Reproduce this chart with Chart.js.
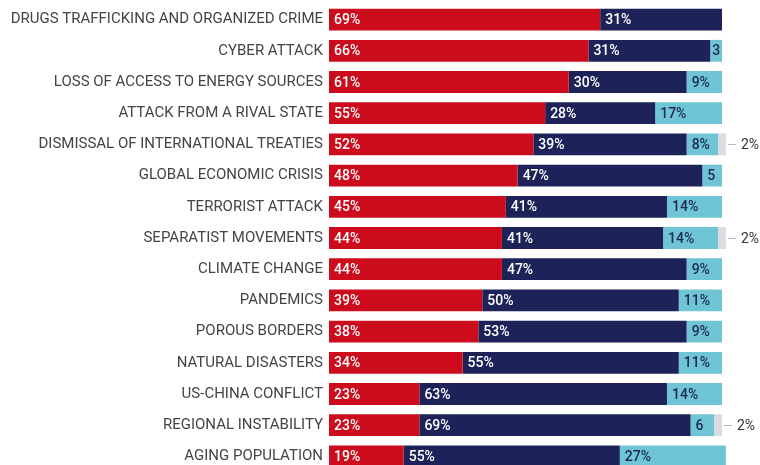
<!DOCTYPE html>
<html>
<head>
<meta charset="utf-8">
<script src="https://cdn.jsdelivr.net/npm/chart.js@4.4.1/dist/chart.umd.min.js"></script>
<style>
    html, body { margin: 0; padding: 0; background: #fff; overflow: hidden; }
    #wrap { position: absolute; left: 0; top: -11px; width: 760px; height: 498px; }
</style>
</head>
<body>
<div id="wrap"><canvas id="threats"></canvas></div>
<script>
// Categories and shares (%)
const categories = [
    'DRUGS TRAFFICKING AND ORGANIZED CRIME',
    'CYBER ATTACK',
    'LOSS OF ACCESS TO ENERGY SOURCES',
    'ATTACK FROM A RIVAL STATE',
    'DISMISSAL OF INTERNATIONAL TREATIES',
    'GLOBAL ECONOMIC CRISIS',
    'TERRORIST ATTACK',
    'SEPARATIST MOVEMENTS',
    'CLIMATE CHANGE',
    'PANDEMICS',
    'POROUS BORDERS',
    'NATURAL DISASTERS',
    'US-CHINA CONFLICT',
    'REGIONAL INSTABILITY',
    'AGING POPULATION'
];
const highThreat = [69, 66, 61, 55, 52, 48, 45, 44, 44, 39, 38, 34, 23, 23, 19];
const mediumThreat = [31, 31, 30, 28, 39, 47, 41, 41, 47, 50, 53, 55, 63, 69, 55];
const lowThreat = [0, 3, 9, 17, 8, 5, 14, 14, 9, 11, 9, 11, 14, 6, 27];
const noAnswer = [0, 0, 0, 0, 2, 0, 0, 2, 0, 0, 0, 0, 0, 2, 0];

// Colors
const RED = '#cc0c1d';
const NAVY = '#1d2359';
const LIGHT_BLUE = '#6fc5d6';
const GRAY = '#d9dce0';

// Short segments get the bare number, wider ones the percent sign
function segmentText(v) {
    return v < 7 ? String(v) : v + '%';
}

// Value labels: inside the segments, outside with a leader line for the last series
const valueLabels = {
    id: 'valueLabels',
    afterDatasetsDraw(chart) {
        const ctx = chart.ctx;
        ctx.save();
        ctx.textBaseline = 'middle';
        ctx.textAlign = 'left';
        chart.data.datasets.forEach((ds, di) => {
            const meta = chart.getDatasetMeta(di);
            meta.data.forEach((bar, i) => {
                const v = ds.data[i];
                if (!v) return;
                const left = Math.min(bar.x, bar.base);
                const right = Math.max(bar.x, bar.base);
                const y = bar.y + 1;
                if (di === 3) {
                    ctx.strokeStyle = '#b8bcc2';
                    ctx.lineWidth = 1;
                    ctx.beginPath();
                    ctx.moveTo(right + 2, Math.round(bar.y) + 0.5);
                    ctx.lineTo(right + 10, Math.round(bar.y) + 0.5);
                    ctx.stroke();
                    ctx.font = '14px Roboto';
                    ctx.fillStyle = '#333';
                    ctx.fillText(v + '%', right + 15, y);
                    return;
                }
                ctx.font = '500 14px Roboto';
                ctx.fillStyle = di === 2 ? '#1d2a4d' : '#ffffff';
                const text = segmentText(v);
                const w = ctx.measureText(text).width;
                const x = (right - left) < w + 8 ? (left + right - w) / 2 : left + 5;
                ctx.fillText(text, x, y);
            });
        });
        ctx.restore();
    }
};

const ctx = document.getElementById('threats').getContext('2d');
const threatsChart = new Chart(ctx, {
    type: 'bar',
    data: {
        labels: categories,
        datasets: [
            { label: 'High', data: highThreat, backgroundColor: RED },
            { label: 'Medium', data: mediumThreat, backgroundColor: NAVY },
            { label: 'Low', data: lowThreat, backgroundColor: LIGHT_BLUE },
            { label: 'No answer', data: noAnswer, backgroundColor: GRAY }
        ].map(ds => Object.assign(ds, {
            borderWidth: 0,
            categoryPercentage: 1,
            barPercentage: 0.7,
            clip: false
        }))
    },
    options: {
        indexAxis: 'y',
        responsive: true,
        maintainAspectRatio: false,
        animation: false,
        layout: {
            padding: { left: 0, right: 38, top: 0, bottom: 0 }
        },
        plugins: {
            legend: { display: false },
            tooltip: { enabled: false }
        },
        scales: {
            x: {
                stacked: true,
                min: 0,
                max: 100,
                display: false
            },
            y: {
                stacked: true,
                grid: { display: false, drawTicks: false },
                border: { display: false },
                afterFit(scale) {
                    scale.width = 329;
                },
                ticks: {
                    color: '#444',
                    padding: 6,
                    font: { family: 'Roboto', size: 15 }
                }
            }
        }
    },
    plugins: [valueLabels]
});
</script>
</body>
</html>
